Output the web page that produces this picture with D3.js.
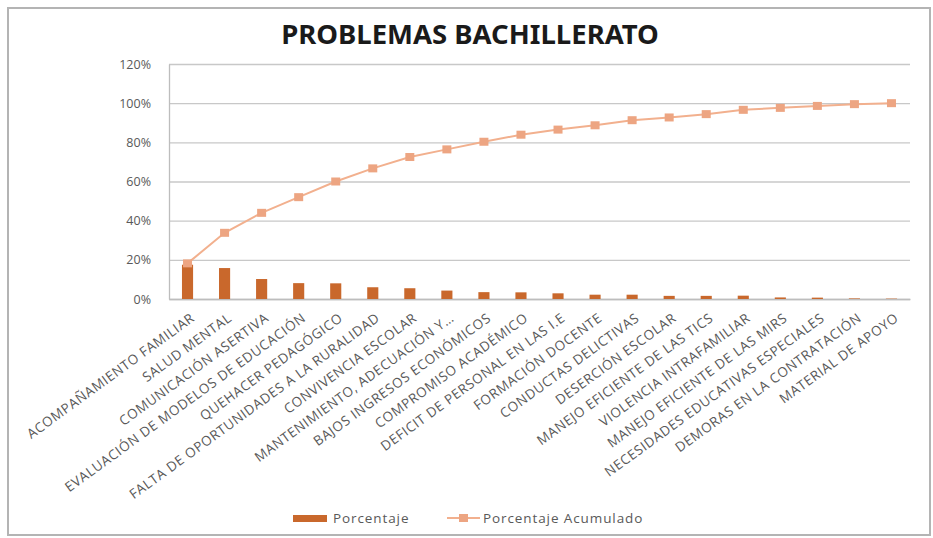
<!DOCTYPE html>
<meta charset="utf-8">
<style>
body { margin: 0; background: #fff; }
svg text { font-family: "Open Sans", "Noto Sans", sans-serif; }
.grid line { stroke: #c8c8c8; stroke-width: 1.3px; }
.grid path { display: none; }
.axisY text, .axisX text { fill: #595959; }
</style>
<svg width="933" height="538"></svg>
<script src="https://d3js.org/d3.v7.min.js"></script>
<script>
    var categories = [
        "ACOMPAÑAMIENTO FAMILIAR", "SALUD MENTAL", "COMUNICACIÓN ASERTIVA",
        "EVALUACIÓN DE MODELOS DE EDUCACIÓN", "QUEHACER PEDAGÓGICO",
        "FALTA DE OPORTUNIDADES A LA RURALIDAD", "CONVIVENCIA ESCOLAR",
        "MANTENIMIENTO, ADECUACIÓN Y…", "BAJOS INGRESOS ECONÓMICOS",
        "COMPROMISO ACADÉMICO", "DEFICIT DE PERSONAL EN LAS I.E",
        "FORMACIÓN DOCENTE", "CONDUCTAS DELICTIVAS", "DESERCIÓN ESCOLAR",
        "MANEJO EFICIENTE DE LAS TICS", "VIOLENCIA INTRAFAMILIAR",
        "MANEJO EFICIENTE DE LAS MIRS", "NECESIDADES EDUCATIVAS ESPECIALES",
        "DEMORAS EN LA CONTRATACIÓN", "MATERIAL DE APOYO"
    ];
    var porcentaje = [17.5, 15.8, 10.2, 8.1, 8.0, 6.0, 5.5, 4.3, 3.5, 3.4,
                      2.9, 2.2, 2.2, 1.6, 1.6, 1.7, 0.8, 0.7, 0.3, 0.2];
    var acumulado = [18.2, 33.8, 44.0, 52.0, 60.0, 66.7, 72.5, 76.4, 80.3, 83.9,
                     86.5, 88.7, 91.3, 92.7, 94.4, 96.6, 97.6, 98.6, 99.5, 100];
    var yTicks = [0, 20, 40, 60, 80, 100, 120];

    var svg = d3.select("svg");
    var margin = {left: 169, top: 64, right: 23, bottom: 239};
    var width = 933 - margin.left - margin.right;
    var height = 538 - margin.top - margin.bottom;

    // marco
    svg.append("rect")
        .attr("x", 8).attr("y", 8)
        .attr("width", 922).attr("height", 527)
        .attr("fill", "#fff")
        .attr("stroke", "#b4b4b4")
        .attr("stroke-width", 2);

    svg.append("text")
        .attr("x", 470).attr("y", 44)
        .attr("text-anchor", "middle")
        .style("font-family", "'Noto Sans', sans-serif")
        .style("font-size", "27.5px")
        .style("font-weight", "bold")
        .attr("fill", "#1a1a1a")
        .text("PROBLEMAS BACHILLERATO");

    var g = svg.append("g")
        .attr("transform", "translate(" + margin.left + "," + margin.top + ")");

    var x = d3.scaleBand()
        .domain(categories)
        .range([0, width])
        .paddingInner(0.7)
        .paddingOuter(0.35);

    var y = d3.scaleLinear()
        .domain([0, 120])
        .range([height, 0]);

    g.append("g")
        .attr("class", "grid")
        .call(d3.axisLeft(y).tickValues(yTicks).tickSize(-width).tickFormat(""));

    g.append("g")
        .attr("class", "axisY")
        .call(d3.axisLeft(y).tickValues(yTicks).tickSize(0).tickPadding(18)
            .tickFormat(function(d) { return d + "%"; }))
        .call(function(a) {
            a.select(".domain").attr("stroke", "#bdbdbd").attr("stroke-width", 1.3);
            a.selectAll("text").style("font-size", "12.5px");
        });

    g.append("g")
        .attr("class", "axisX")
        .attr("transform", "translate(0," + height + ")")
        .call(d3.axisBottom(x).tickSize(0).tickPadding(0))
        .call(function(a) {
            a.select(".domain").attr("stroke", "#bdbdbd").attr("stroke-width", 1.3);
            a.selectAll("text")
                .style("font-size", "13.5px")
                .style("letter-spacing", "0.6px")
                .attr("text-anchor", "end")
                .attr("dy", 0)
                .attr("transform", "translate(8,21) rotate(-36)");
        });

    g.selectAll(".bar")
        .data(porcentaje)
        .enter().append("rect")
        .attr("class", "bar")
        .attr("x", function(d, i) { return x(categories[i]); })
        .attr("width", x.bandwidth())
        .attr("y", function(d) { return y(d); })
        .attr("height", function(d) { return height - y(d); })
        .attr("fill", "#c9682c");

    var line = d3.line()
        .x(function(d, i) { return x(categories[i]) + x.bandwidth() / 2; })
        .y(function(d) { return y(d); });

    g.append("path")
        .datum(acumulado)
        .attr("d", line)
        .attr("fill", "none")
        .attr("stroke", "#f2b08e")
        .attr("stroke-width", 2);

    g.selectAll(".mark")
        .data(acumulado)
        .enter().append("rect")
        .attr("class", "mark")
        .attr("x", function(d, i) { return x(categories[i]) + x.bandwidth() / 2 - 4.5; })
        .attr("y", function(d) { return y(d) - 4; })
        .attr("width", 9).attr("height", 8)
        .attr("fill", "#eda582");

    // leyenda
    var leg = svg.append("g").attr("transform", "translate(0,518)");
    leg.append("rect").attr("x", 293).attr("y", -3).attr("width", 34).attr("height", 7)
        .attr("fill", "#c9682c");
    leg.append("text").attr("x", 333).attr("y", 5)
        .style("font-size", "13.5px").style("letter-spacing", "0.9px")
        .attr("fill", "#595959").text("Porcentaje");
    leg.append("line").attr("x1", 447).attr("x2", 480).attr("y1", 0).attr("y2", 0)
        .attr("stroke", "#f2b08e").attr("stroke-width", 2);
    leg.append("rect").attr("x", 459).attr("y", -4).attr("width", 9).attr("height", 8)
        .attr("fill", "#eda582");
    leg.append("text").attr("x", 483).attr("y", 5)
        .style("font-size", "13.5px").style("letter-spacing", "0.9px")
        .attr("fill", "#595959").text("Porcentaje Acumulado");
</script>
